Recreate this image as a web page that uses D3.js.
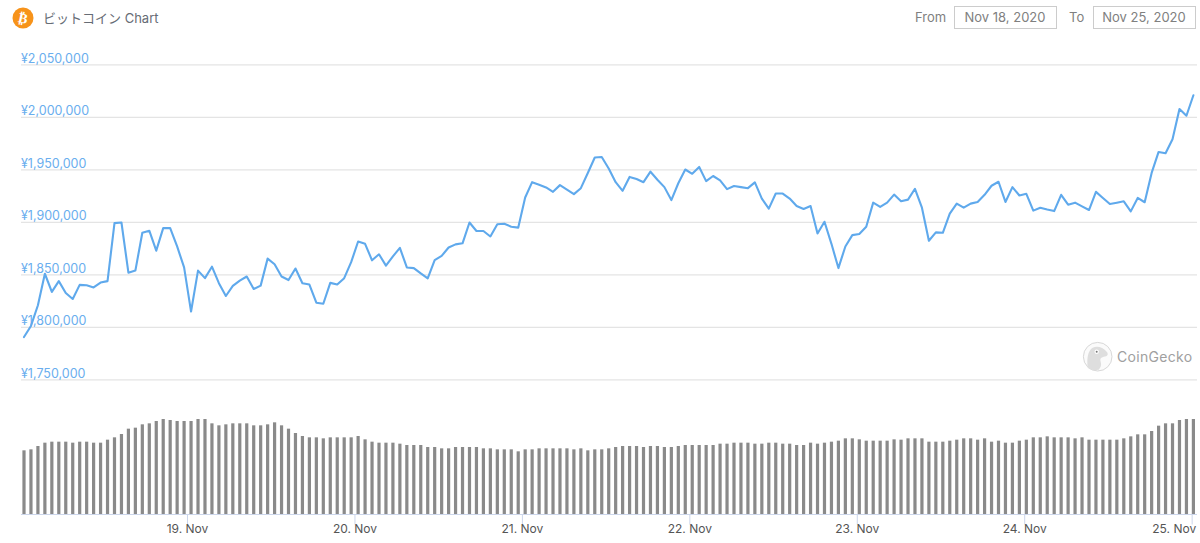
<!DOCTYPE html>
<html><head><meta charset="utf-8">
<script src="https://cdn.jsdelivr.net/npm/d3@7"></script>
<style>
html,body{margin:0;padding:0;background:#fff;overflow:hidden}
svg{display:block}
text{font-family:Inter,"Noto Sans CJK JP",sans-serif}
</style></head><body>
<svg id="c" width="1200" height="543"></svg>
<script>
const chartTitle = "ビットコイン Chart";
const fromDate = "Nov 18, 2020";
const toDate = "Nov 25, 2020";
const priceTicks = [1750000,1800000,1850000,1900000,1950000,2000000,2050000];
const dayTicks = ["2020-11-19","2020-11-20","2020-11-21","2020-11-22","2020-11-23","2020-11-24","2020-11-25"];
const firstTime = "2020-11-18T00:38:00Z";
const lastTime = "2020-11-25T00:15:00Z";
// thousands of yen, one per sample
const prices = [
1790.7,1801.3,1821,1851,1833.7,1844,1832.7,1827,1840.4,1840,1838,1842.6,1844,1899.2,1899.8,1852,1854,1890,1892,1873,
1894.5,1894.5,1877,1857,1815,1854,1846.8,1857.7,1842,1829.8,1839.4,1844.5,1848.4,1836.5,1839.7,1865.4,1860,1848.4,1845,1856,
1842,1840.7,1823.4,1822.4,1842.3,1840.7,1846.8,1862,1881.7,1879.5,1863.8,1869.5,1858.7,1867.6,1875.6,1857,1856.4,1851.3,1846.5,1864,
1868,1876,1879,1880,1899.8,1891.7,1891.7,1886.5,1898.2,1898.6,1895.8,1894.9,1923.6,1938.2,1935.7,1933.2,1929,1935.4,1931.2,1926.8,
1932.5,1947,1961.7,1962.2,1951.3,1938.2,1930,1943.2,1941.2,1938.2,1948.2,1940.5,1933.5,1921.2,1937.2,1950.3,1946.2,1952.7,1939.2,1944.1,
1939.9,1931.6,1934.5,1933.5,1932.5,1938,1922.6,1913,1927.4,1927.4,1922.6,1915.5,1912.7,1915.5,1889.4,1900.5,1879.5,1856.4,1877,1887.8,
1888.8,1895.8,1918.7,1914.6,1918.7,1926.4,1920,1921.6,1931.9,1913.9,1882.4,1890.4,1890,1908.2,1917.8,1913.9,1917.8,1919.4,1926.2,1934.8,
1938.6,1919.4,1933.5,1925.5,1927.1,1911.1,1913.9,1912.2,1910.7,1926.2,1916.8,1918.7,1915.2,1911.7,1929,1923.2,1917.5,1918.7,1920,1910.4,
1923.2,1919.1,1947,1967,1965.7,1979.1,2007.9,2001.5,2021];
// relative volume, no axis in the source
const volumes = [
191,194,204,214,217,217,217,214,217,217,214,214,223,230,240,256,259,269,272,279,285,282,279,279,279,285,285,272,266,269,272,272,272,266,266,269,275,266,256,243,
234,230,230,227,230,230,230,230,234,224,217,214,214,214,211,207,207,207,201,201,197,197,201,201,201,201,197,197,194,194,194,188,194,194,197,197,197,197,197,194,197,191,194,
194,197,201,204,204,204,201,204,204,201,201,204,207,207,207,207,207,211,211,214,214,214,211,211,214,214,211,211,207,207,214,211,214,217,220,227,227,224,220,220,220,220,224,
223,227,227,227,217,217,217,220,223,227,227,223,227,217,220,214,214,220,223,230,230,233,230,230,230,227,230,223,223,223,223,223,227,233,239,239,249,265,272,272,282,285,285];

const svg = d3.select("#c");
const t0 = new Date(firstTime), t1 = new Date(lastTime);
const times = prices.map((_, i) => new Date(+t0 + (t1 - t0) * i / (prices.length - 1)));
const x = d3.scaleUtc().domain([t0, t1]).range([24, 1193.4]);
const y = d3.scaleLinear().domain([1750000, 2050000]).range([379.8, 64.8]);
const v = d3.scaleLinear().domain([0, 285]).range([514, 419]);
const gridL = 21, gridR = 1197;

// grid + price labels
const g = svg.append("g");
g.selectAll("line").data(priceTicks).join("line")
  .attr("x1", gridL).attr("x2", gridR)
  .attr("y1", d => y(d)).attr("y2", d => y(d))
  .attr("stroke", "#e4e4e4").attr("stroke-width", 1.2);
g.selectAll("text").data(priceTicks).join("text")
  .attr("x", gridL).attr("y", d => y(d) - 2.3)
  .attr("font-size", 12.5).attr("fill", "#6aaeee")
  .text(d => "¥" + d3.format(",")(d));

// volume bars
svg.append("g").selectAll("rect").data(volumes).join("rect")
  .attr("x", (d, i) => x(times[i]) - 1.6).attr("width", 3.2)
  .attr("y", d => v(d)).attr("height", d => v(0) - v(d))
  .attr("fill", "#8a8a8a");

// axis
const days = dayTicks.map(d => new Date(d + "T00:00:00Z"));
const axis = d3.axisBottom(x).tickValues(days).tickSize(10).tickSizeOuter(0)
  .tickFormat(d3.utcFormat("%-d. %b"));
const ax = svg.append("g").attr("transform", "translate(0,514.5)").call(axis);
ax.select(".domain").remove();
ax.append("line").attr("x1", gridL).attr("x2", gridR).attr("stroke", "#ccd6eb");
ax.selectAll(".tick line").attr("stroke", "#ccd6eb");
ax.selectAll(".tick text").attr("font-size", 12).attr("fill", "#555").attr("y", 10).attr("dy", "0.71em")
  .attr("font-family", "Inter");
ax.selectAll(".tick:last-of-type text").attr("text-anchor", "end").attr("x", 4);

// price line
svg.append("path").datum(prices)
  .attr("fill", "none").attr("stroke", "#5fa9ec").attr("stroke-width", 2.1)
  .attr("stroke-linejoin", "round").attr("stroke-linecap", "round")
  .attr("d", d3.line().x((d, i) => x(times[i])).y(d => y(d * 1000)));

// header
svg.append("circle").attr("cx", 23).attr("cy", 18).attr("r", 10.5).attr("fill", "#f7931a");
svg.append("text").attr("x", 23).attr("y", 23).attr("text-anchor", "middle")
  .attr("font-size", 14).attr("font-weight", 700).attr("fill", "#fff")
  .attr("transform", "rotate(12 23 18)").style("font-family", "'DejaVu Sans'").text("₿");
svg.append("text").attr("x", 43).attr("y", 23).attr("font-size", 13).attr("fill", "#666c75").text(chartTitle);

const box = (bx, label, lx, val) => {
  svg.append("text").attr("x", lx).attr("y", 22).attr("font-size", 13).attr("fill", "#808080").text(label);
  svg.append("rect").attr("x", bx + .5).attr("y", 6.5).attr("width", 102).attr("height", 22)
    .attr("fill", "#fff").attr("stroke", "#cccccc").attr("stroke-width", 1);
  svg.append("text").attr("x", bx + 51).attr("y", 22).attr("text-anchor", "middle")
    .attr("font-size", 13).attr("fill", "#808080").text(val);
};
box(954, "From", 915, fromDate);
box(1093, "To", 1069, toDate);

// CoinGecko mark
const logo = svg.append("g").attr("transform", "translate(1097.7,356.7)");
logo.append("circle").attr("r", 14.3).attr("fill", "#fbfbfb").attr("stroke", "#d8d8d8").attr("stroke-width", 1);
logo.append("path").attr("fill", "#dedede")
  .attr("d", "M-10,11 C-11,2 -10,-6 -5,-9 C-1,-11 5,-10 9,-5 C11,-3 10,0 6,0 C3,1 2,2 3,5 C4,8 3,11 1,13 C-4,14 -8,13 -10,11Z");
logo.append("circle").attr("cx", -1).attr("cy", -5).attr("r", 2.2).attr("fill", "#fff");
logo.append("circle").attr("cx", -1).attr("cy", -5).attr("r", 1).attr("fill", "#777");
svg.append("text").attr("x", 1117).attr("y", 361.5).attr("font-size", 14).attr("fill", "#a0a0a0")
  .attr("letter-spacing", 0.3).text("CoinGecko");
</script>
</body></html>
